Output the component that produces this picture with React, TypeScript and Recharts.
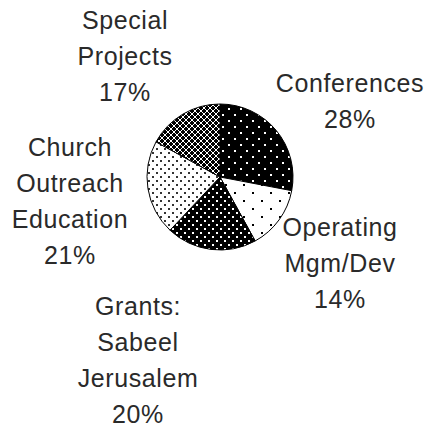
import { PieChart, Pie, Cell } from 'recharts'

const categories = ['Conferences', 'Operating Mgm/Dev', 'Grants: Sabeel Jerusalem', 'Church Outreach Education', 'Special Projects']
const shares = [28, 14, 20, 21, 17]
const labelLines = [
  ['Conferences'],
  ['Operating', 'Mgm/Dev'],
  ['Grants:', 'Sabeel', 'Jerusalem'],
  ['Church', 'Outreach', 'Education'],
  ['Special', 'Projects'],
]

const data = categories.map((name, i) => ({ name, value: shares[i] }))

// label block centres, relative to the pie centre
const labelOffsets = [
  [130, -76],
  [120, 86],
  [-82, 183],
  [-150, 24],
  [-95, -121],
]

const fills = ['url(#pConf)', 'url(#pOper)', 'url(#pGrant)', 'url(#pChurch)', 'url(#pSpecial)']

const LINE_H = 36

const renderLabel = (props: any) => {
  const { cx, cy, index, value } = props
  const lines = [...labelLines[index], `${value}%`]
  const [dx, dy] = labelOffsets[index]
  const top = cy + dy - ((lines.length - 1) * LINE_H) / 2
  return (
    <text
      key={`lbl-${index}`}
      x={cx + dx}
      y={top}
      textAnchor="middle"
      dominantBaseline="central"
      fontFamily="'Liberation Sans', Arial, sans-serif"
      fontSize={25}
      letterSpacing={0.6}
      fill="#2a2a2a"
    >
      {lines.map((l, i) => (
        <tspan key={i} x={cx + dx} dy={i === 0 ? 0 : LINE_H}>
          {l}
        </tspan>
      ))}
    </text>
  )
}

export default function App() {
  return (
    <div style={{ position: 'absolute', left: 0, top: 0, width: 429, height: 428, background: '#fff' }}>
      <PieChart width={429} height={428} margin={{ top: 0, right: 0, bottom: 0, left: 0 }}>
        <defs>
          <pattern id="pConf" width="12" height="12" patternUnits="userSpaceOnUse">
            <rect width="12" height="12" fill="#000" />
            <rect x="0" y="0" width="2" height="2" fill="#fff" />
            <rect x="6" y="6" width="2" height="2" fill="#fff" />
          </pattern>
          <pattern id="pOper" width="18" height="16" patternUnits="userSpaceOnUse">
            <rect width="18" height="16" fill="#fff" />
            <rect x="0" y="0" width="2" height="2" fill="#000" />
            <rect x="9" y="8" width="2" height="2" fill="#000" />
          </pattern>
          <pattern id="pGrant" width="8" height="8" patternUnits="userSpaceOnUse">
            <rect width="8" height="8" fill="#000" />
            <rect x="0" y="0" width="2" height="2" fill="#fff" />
            <rect x="4" y="4" width="2" height="2" fill="#fff" />
          </pattern>
          <pattern id="pChurch" width="8" height="8" patternUnits="userSpaceOnUse">
            <rect width="8" height="8" fill="#fff" />
            <rect x="0" y="0" width="2" height="2" fill="#333" />
            <rect x="4" y="4" width="2" height="2" fill="#333" />
          </pattern>
          <pattern id="pSpecial" width="6" height="6" patternUnits="userSpaceOnUse">
            <rect width="6" height="6" fill="#000" />
            <path d="M0,0 L6,6 M6,0 L0,6" stroke="#fff" strokeWidth="1" />
          </pattern>
        </defs>
        <Pie
          data={data}
          dataKey="value"
          nameKey="name"
          cx={220}
          cy={177}
          outerRadius={73}
          startAngle={90}
          endAngle={-270}
          stroke="#000"
          strokeWidth={1}
          label={renderLabel}
          labelLine={false}
          isAnimationActive={false}
        >
          {data.map((d, i) => (
            <Cell key={d.name} fill={fills[i]} />
          ))}
        </Pie>
      </PieChart>
    </div>
  )
}
